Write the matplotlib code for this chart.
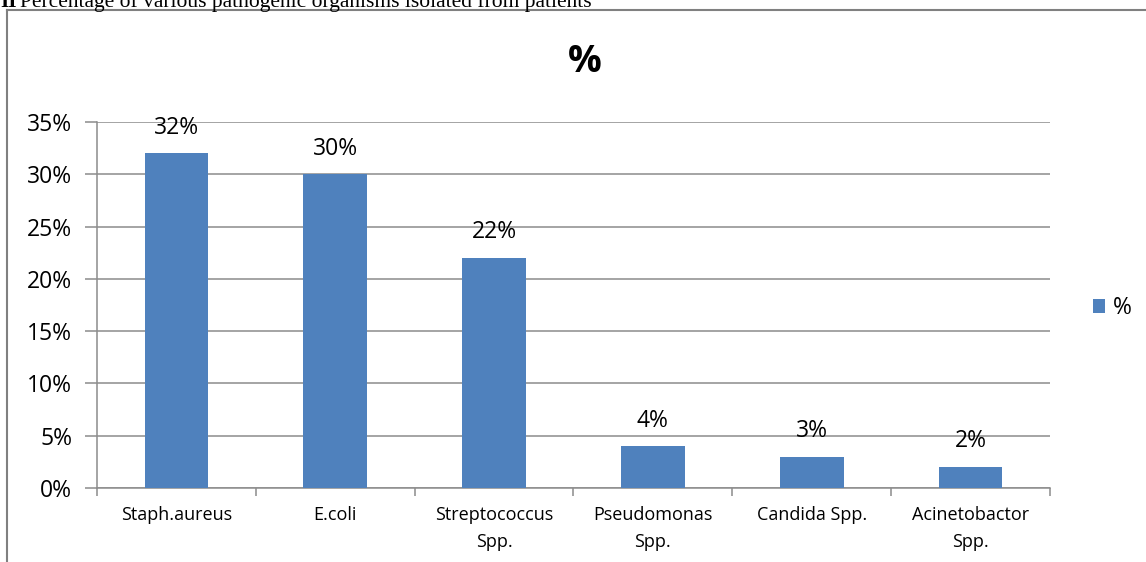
import numpy as np
import matplotlib.pyplot as plt
from matplotlib.lines import Line2D

organisms = ['Staph.aureus', 'E.coli', 'Streptococcus\nSpp.', 'Pseudomonas\nSpp.',
             'Candida Spp.', 'Acinetobactor\nSpp.']
percent = [32, 30, 22, 4, 3, 2]
yticks = [0, 5, 10, 15, 20, 25, 30, 35]

plt.rcParams['font.family'] = ['Open Sans', 'DejaVu Sans']

fig = plt.figure(figsize=(11.46, 5.62), dpi=100)
ax = fig.add_axes([97/1146, 1-488/562, (1050-97)/1146, (488-122)/562])

x = np.arange(len(organisms))
bars = ax.bar(x, percent, width=0.40, color='#4F81BD', zorder=3, label='%')
for xi, v in zip(x, percent):
    ax.text(xi, v + 2.45, '{}%'.format(v), ha='center', va='center', fontsize=16.5, zorder=4)

ax.set_xlim(-0.5, len(organisms) - 0.5)
ax.set_ylim(0, 35)
ax.set_yticks(yticks)
ax.set_yticklabels(['{}%'.format(t) for t in yticks], fontsize=16.5)
ax.yaxis.grid(True, color='#8c8c8c', linewidth=1.1, zorder=0)
ax.tick_params(axis='y', length=9, width=1.1, color='#8c8c8c', pad=9)

# category boundary ticks, labels in the middle
ax.set_xticks(np.arange(-0.5, len(organisms), 1.0))
ax.set_xticklabels([])
ax.set_xticks(x, minor=True)
ax.set_xticklabels(organisms, minor=True, fontsize=13, linespacing=1.65, va='top')
ax.tick_params(axis='x', which='major', length=6, width=1.1, color='#8c8c8c')
ax.tick_params(axis='x', which='minor', length=0, pad=13)

for s in ['top', 'right']:
    ax.spines[s].set_visible(False)
for s in ['left', 'bottom']:
    ax.spines[s].set_color('#8c8c8c')
    ax.spines[s].set_linewidth(1.1)

fig.text(585/1146, 1-62/562, '%', ha='center', va='center', fontsize=27, fontweight='bold')

leg = fig.legend(handles=[bars], labels=['%'], loc='center left',
                 bbox_to_anchor=(1072/1146, 1-308/562), frameon=False,
                 fontsize=16.5, handlelength=0.55, handleheight=0.55, handletextpad=0.35)

# outer chart frame (cropped on right/bottom)
fig.add_artist(Line2D([7/1146, 7/1146], [0, 1-10/562], color='#808080', linewidth=1.5,
                      transform=fig.transFigure))
fig.add_artist(Line2D([7/1146, 1], [1-10/562, 1-10/562], color='#808080', linewidth=1.5,
                      transform=fig.transFigure))

# caption above the chart, mostly cut off by the image edge
fig.text(0.0, 1-7/562, 'II', ha='left', va='baseline', fontsize=15.5, fontweight='bold',
         family='Liberation Serif')
fig.text(20/1146, 1-7/562, 'Percentage of various pathogenic organisms isolated from patients',
         ha='left', va='baseline', fontsize=15.5, family='Liberation Serif')

fig.savefig('out.png', dpi=100)
